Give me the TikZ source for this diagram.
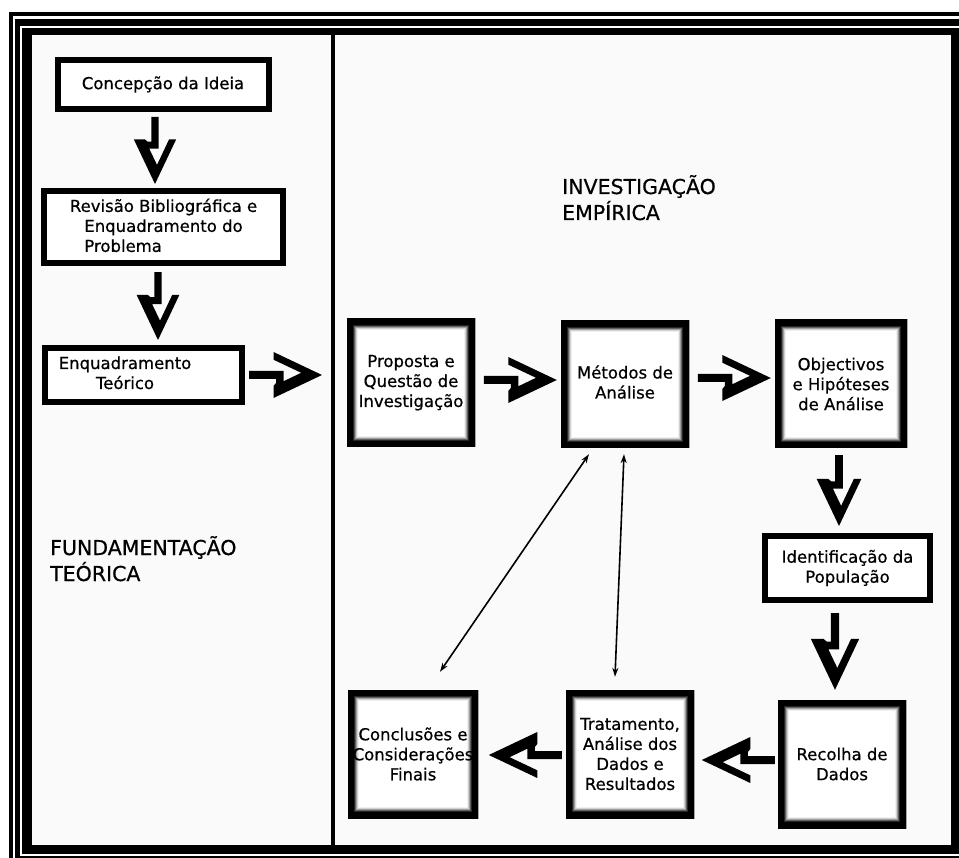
\documentclass[tikz,border=0pt]{standalone}
\usepackage{fontspec}
\setmainfont{DejaVu Sans}[FakeBold=0.6]
\usetikzlibrary{arrows.meta,calc}
\definecolor{bgpaper}{HTML}{FAFAFA}
\newcommand{\boxfont}{\fontsize{16.5}{20}\selectfont}
\newcommand{\titlefont}{\fontsize{20.5}{26}\selectfont}
\newcommand{\liftlines}[2]{\raisebox{#1}{\begin{tabular}{@{}c@{}}#2\end{tabular}}}

\tikzset{
  plainbox/.style={draw=black, line width=6pt, fill=white, inner sep=0pt,
    align=center, font=\boxfont},
  shadebox/.style={fill=white, inner sep=0pt, align=center, font=\boxfont,
    minimum width=128pt, minimum height=128pt,
    path picture={
      \foreach \w/\p in {11/6,10/18,9/38,8/62,7/85,6/100}
        \draw[line width=2*\w pt, black!\p!white]
          (path picture bounding box.south west) rectangle
          (path picture bounding box.north east);
    }},
  titletext/.style={anchor=base west, align=left, font=\titlefont, inner sep=0pt},
  thinarrow/.style={line width=1.6pt,
    {Stealth[length=9pt,width=6pt]}-{Stealth[length=9pt,width=6pt]}},
  % block arrow: tip at the origin, pointing down, stem hooked into the left arm
  hookarrow/.pic={
    \fill[black] (-4,-73) -- (4,-73) -- (4,-38.5) -- (-6.3,-38.5)
      -- (2.2,-20.8) -- (15.3,-48.5) -- (23,-48.5) -- (0,0)
      -- (-23,-48.5) -- (-11,-48.5) -- (-8,-46) -- (-4,-46) -- cycle;
  }
}

\begin{document}
\begin{tikzpicture}[x=1pt,y=-1pt]
\useasboundingbox (0,0) rectangle (959,858);
\clip (0,0) rectangle (959,858);
\fill[white] (0,0) rectangle (959,858);

% nested outer frames
\fill (9,12) rectangle (959,16);
\fill (9,12) rectangle (13,858);
\fill (15,19) rectangle (959,26);
\fill (15,19) rectangle (20,858);
\fill (15,856) rectangle (959,858);
\fill (22,28) rectangle (959,854);
\fill[bgpaper] (32,35) rectangle (951,845);
% column divider
\fill (331,35) rectangle (335,845);

% theoretical column
\node[plainbox, minimum width=211pt, minimum height=49pt] (idea) at (163,84.5)
  {Concepção da Ideia};
\node[plainbox, minimum width=239pt, minimum height=72pt] (rev) at (163.5,227)
  {Revisão Bibliográfica e\\Enquadramento do\\
   \makebox[0pt][l]{Problema}\phantom{Enquadramento do}};
\node[plainbox, minimum width=197pt, minimum height=54pt] (teo) at (143.5,375)
  {\begin{tabular}{@{}c@{}}Enquadramento\\Teórico\end{tabular}\hspace*{37pt}};

\node[titletext] (fund) at (50,581) {FUNDAMENTAÇÃO\\TEÓRICA};
\node[titletext] (emp) at (562,220) {INVESTIGAÇÃO\\EMPÍRICA};

% empirical part
\node[shadebox] (prop) at (411,383) {\liftlines{6pt}{Proposta e\\Questão de\\Investigação}};
\node[shadebox, minimum height=127pt] (met) at (625,384.5) {\liftlines{7pt}{Métodos de\\Análise}};
\node[shadebox, minimum width=132pt] (obj) at (841,384) {Objectivos\\e Hipóteses\\de Análise};
\node[plainbox, minimum width=165pt, minimum height=64pt] (pop) at (847.5,568)
  {Identificação da\\População};
\node[shadebox] (rec) at (842,764) {Recolha de\\Dados};
\node[shadebox] (trat) at (630,754)
  {Tratamento,\\Análise dos\\Dados e\\Resultados};
\node[shadebox, minimum width=130pt] (concl) at (413,754)
  {Conclusões e\\Considerações\\Finais};

% block arrows
\pic[scale=0.92] at ($(rev.north)+(-8.5,-4)$) {hookarrow};
\pic[scale=0.93] at ($(teo.north)+(14.5,-5)$) {hookarrow};
\pic[rotate=90] at (322,375) {hookarrow};
\pic[rotate=90] at ($(met.west)+(-4,-4.5)$) {hookarrow};
\pic[rotate=90] at ($(obj.west)+(-4,-6)$) {hookarrow};
\pic[scale=0.97] at ($(pop.north)+(-8.5,-7)$) {hookarrow};
\pic[scale=1.05] at ($(rec.north)+(-7,-10)$) {hookarrow};
\pic[rotate=-90] at ($(trat.west)+(-77,1)$) {hookarrow};
\pic[rotate=-90] at ($(rec.west)+(-76,-4)$) {hookarrow};

% feedback links
\draw[thinarrow] ($(met.south)+(-36,6)$) -- ($(concl.north)+(27,-18)$);
\draw[thinarrow] ($(met.south)+(-1,6)$) -- ($(trat.north)+(-15,-13)$);
\end{tikzpicture}
\end{document}
